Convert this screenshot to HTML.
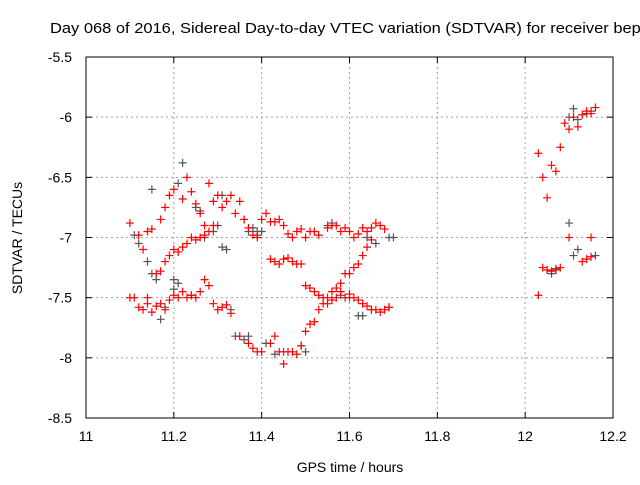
<!DOCTYPE html>
<html><head><meta charset="utf-8"><style>
body{margin:0;background:#fff;width:640px;height:480px;overflow:hidden}
svg{font-family:"Liberation Sans",sans-serif}
</style></head><body>
<svg id="chart" width="640" height="480">
<text x="50" y="33" font-size="15" textLength="600" lengthAdjust="spacingAndGlyphs">Day 068 of 2016, Sidereal Day-to-day VTEC variation (SDTVAR) for receiver bepa</text>
<g id="grid"></g>
<rect x="86" y="57" width="527" height="361" fill="none" stroke="#000"/>
<g id="ticks"></g>
<g id="marks"></g>
<text x="350" y="472" font-size="14" text-anchor="middle">GPS time / hours</text>
<text transform="translate(22,238) rotate(-90)" font-size="14" text-anchor="middle">SDTVAR / TECUs</text>
</svg>
<script>
const xTicks=[11,11.2,11.4,11.6,11.8,12,12.2];
const xTickLabels=["11","11.2","11.4","11.6","11.8","12","12.2"];
const yTicks=[-5.5,-6,-6.5,-7,-7.5,-8,-8.5];
const yTickLabels=["-5.5","-6","-6.5","-7","-7.5","-8","-8.5"];
const redX=[11.10,11.11,11.12,11.13,11.14,11.14,11.15,11.16,11.17,11.18,11.19,11.2,11.21,11.22,11.23,11.24,11.25,11.26,11.27,11.28,11.29,11.3,11.31,11.32,11.33,
11.16,11.17,11.18,11.19,11.2,11.21,11.22,11.23,11.24,11.25,11.26,11.27,11.28,11.29,
11.1,11.12,11.13,11.14,11.15,11.17,11.18,11.19,11.2,11.22,11.23,11.24,11.25,11.26,11.27,11.28,11.29,11.3,11.31,11.32,11.33,11.34,11.35,11.36,11.37,11.38,11.39,
11.4,11.41,11.42,11.43,11.44,11.45,11.46,11.47,11.48,11.49,11.5,11.51,11.52,11.53,11.55,11.56,11.57,11.58,11.59,11.6,11.61,11.62,11.63,11.64,11.65,11.66,11.67,11.68,
11.42,11.43,11.44,11.45,11.46,11.47,11.48,11.49,
11.35,11.37,11.38,11.39,11.4,11.42,11.43,11.44,11.45,11.46,11.47,11.48,11.49,
11.5,11.51,11.52,11.53,11.54,11.55,11.56,11.57,11.58,11.59,11.6,11.61,11.62,11.63,11.64,11.65,
11.5,11.51,11.52,11.53,11.54,11.55,11.56,11.57,11.58,11.59,11.6,11.61,11.62,11.63,11.64,11.65,11.66,11.67,11.68,11.69,
12.03,12.03,12.04,12.05,12.06,12.07,12.08,12.09,12.1,12.11,12.12,12.13,12.14,12.15,12.16,12.1,12.15,12.04,12.05,12.06,12.07,12.08,12.13,12.14,12.15];
const redY=[-7.5,-7.5,-7.58,-7.6,-7.55,-7.5,-7.62,-7.57,-7.55,-7.6,-7.52,-7.48,-7.5,-7.45,-7.5,-7.48,-7.5,-7.45,-7.35,-7.4,-7.55,-7.6,-7.58,-7.56,-7.63,
-7.3,-7.28,-7.2,-7.15,-7.1,-7.12,-7.08,-7.05,-7.0,-7.02,-7.0,-6.98,-6.95,-6.9,
-6.88,-6.98,-7.1,-6.95,-6.93,-6.85,-6.75,-6.65,-6.6,-6.68,-6.5,-6.62,-6.72,-6.8,-6.9,-6.55,-6.7,-6.65,-6.75,-6.7,-6.65,-6.8,-6.7,-6.85,-6.92,-6.98,-7.0,
-6.85,-6.8,-6.87,-6.87,-6.85,-6.9,-6.97,-7.0,-6.95,-6.93,-7.0,-6.95,-6.95,-6.98,-6.92,-6.9,-6.9,-6.95,-6.92,-6.95,-7.0,-6.97,-6.92,-6.95,-6.92,-6.88,-6.9,-6.93,
-7.18,-7.2,-7.22,-7.18,-7.17,-7.2,-7.22,-7.22,
-7.82,-7.88,-7.92,-7.95,-7.95,-7.88,-7.82,-7.95,-8.05,-7.95,-7.95,-7.97,-7.9,
-7.78,-7.72,-7.7,-7.6,-7.55,-7.5,-7.45,-7.42,-7.38,-7.3,-7.3,-7.25,-7.22,-7.15,-7.08,-7.02,
-7.4,-7.42,-7.45,-7.48,-7.5,-7.55,-7.52,-7.5,-7.45,-7.5,-7.47,-7.5,-7.52,-7.55,-7.57,-7.6,-7.6,-7.62,-7.6,-7.58,
-7.48,-6.3,-6.5,-6.67,-6.4,-6.45,-6.25,-6.05,-6.1,-6.0,-6.08,-5.98,-5.95,-5.97,-5.92,-7.0,-7.0,-7.25,-7.27,-7.28,-7.26,-7.25,-7.2,-7.18,-7.16];
const blackX=[11.11,11.12,11.14,11.15,11.15,11.16,11.17,11.18,11.2,11.21,11.21,11.22,11.25,11.26,11.29,11.3,11.31,11.31,11.32,11.36,11.37,11.38,11.39,11.39,11.4,11.34,11.36,11.37,11.41,11.43,11.45,11.49,11.5,11.55,11.56,11.6,11.58,11.62,11.63,11.65,11.64,11.66,11.69,11.7,11.69,11.33,11.2,11.24,11.27,12.06,12.1,12.11,12.12,12.16,12.1,12.11,12.12,12.14,12.15,12.07];
const blackY=[-6.98,-7.05,-7.2,-7.3,-6.6,-7.35,-7.68,-7.58,-7.43,-7.38,-6.55,-6.38,-6.75,-6.78,-6.95,-6.9,-6.65,-7.08,-7.1,-6.85,-6.95,-6.92,-6.98,-6.95,-6.95,-7.82,-7.85,-7.82,-7.88,-7.97,-7.95,-7.9,-7.95,-6.9,-6.88,-7.5,-7.48,-7.65,-7.65,-7.6,-7.0,-7.05,-7.0,-7.0,-7.58,-7.6,-7.35,-7.48,-7.0,-7.3,-6.88,-7.15,-7.1,-7.15,-6.0,-5.93,-6.02,-5.97,-5.95,-7.27];

const X0=86,X1=613,Y0=57,Y1=418;
const sx=h=>X0+(h-11)/1.2*(X1-X0);
const sy=v=>Y0+(-5.5-v)/3*(Y1-Y0);
const NS="http://www.w3.org/2000/svg";
function mk(tag,attrs,parent){const e=document.createElementNS(NS,tag);for(const k in attrs)e.setAttribute(k,attrs[k]);parent.appendChild(e);return e;}
const grid=document.getElementById('grid'),ticks=document.getElementById('ticks'),marks=document.getElementById('marks');
xTicks.forEach((t,i)=>{const x=sx(t);
 if(i>0&&i<xTicks.length-1){const g=mk('line',{x1:x,x2:x,y1:Y0,y2:Y1,stroke:'#a0a0a0','stroke-dasharray':'2,3'},grid);
 
 }
 mk('line',{x1:x,x2:x,y1:Y1,y2:Y1-6,stroke:'#000'},ticks);
 mk('line',{x1:x,x2:x,y1:Y0,y2:Y0+6,stroke:'#000'},ticks);
 const tx=mk('text',{x:x,y:441,'font-size':14,'text-anchor':'middle'},ticks);tx.textContent=xTickLabels[i];
 
 
});
yTicks.forEach((t,i)=>{const y=sy(t);
 if(i>0&&i<yTicks.length-1){const g=mk('line',{x1:X0,x2:X1,y1:y,y2:y,stroke:'#a0a0a0','stroke-dasharray':'2,3'},grid);
 
 }
 mk('line',{x1:X0,x2:X0+6,y1:y,y2:y,stroke:'#000'},ticks);
 mk('line',{x1:X1,x2:X1-6,y1:y,y2:y,stroke:'#000'},ticks);
 const tx=mk('text',{x:72,y:y+5,'font-size':14,'text-anchor':'end'},ticks);tx.textContent=yTickLabels[i];
 
 
});
function plus(h,v,col,name){const x=sx(h),y=sy(v);
 const p=mk('path',{d:`M${x-4},${y}H${x+4}M${x},${y-4}V${y+4}`,stroke:col,'stroke-width':1.2},marks);
 
 }
blackX.forEach((h,i)=>plus(h,blackY[i],'#555','black-point'));
redX.forEach((h,i)=>plus(h,redY[i],'#ff0000','red-point'));
</script>
</body></html>
